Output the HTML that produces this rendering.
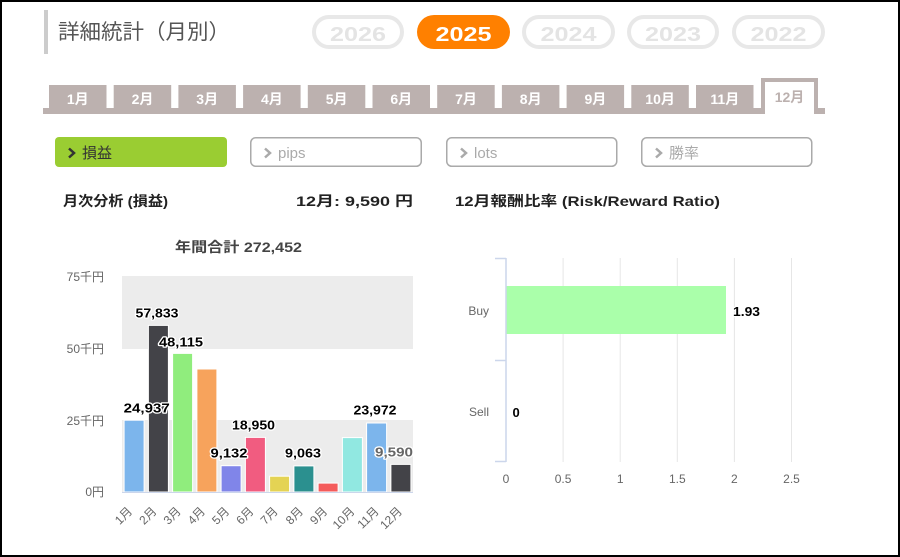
<!DOCTYPE html>
<html>
<head>
<meta charset="utf-8">
<style>
  html,body{margin:0;padding:0;background:#fff;}
  body{width:900px;height:557px;overflow:hidden;}
  svg{display:block;font-family:"Liberation Sans","Noto Sans CJK JP",sans-serif;}
  .b{font-weight:bold;}
</style>
</head>
<body>
<svg width="900" height="557" viewBox="0 0 900 557" xmlns="http://www.w3.org/2000/svg">
  <!-- frame -->
  <rect x="1" y="1" width="898" height="555" fill="#fff" stroke="#000" stroke-width="2"/>

  <!-- title -->
  <rect x="44" y="10" width="4" height="44" fill="#cccccc"/>
  <text x="58" y="39" font-size="21" fill="#555" textLength="172" lengthAdjust="spacingAndGlyphs">詳細統計（月別）</text>

  <!-- year pills -->
  <rect x="314" y="17" width="88" height="30" rx="15" fill="#fff" stroke="#e8e8e8" stroke-width="4"/>
  <text x="358" y="41" font-size="20" class="b" fill="#e4e4e4" text-anchor="middle" textLength="56" lengthAdjust="spacingAndGlyphs">2026</text>
  <rect x="417" y="15" width="93" height="34" rx="17" fill="#ff8000"/>
  <text x="463.5" y="41" font-size="20" class="b" fill="#fff" text-anchor="middle" textLength="56" lengthAdjust="spacingAndGlyphs">2025</text>
  <rect x="524" y="17" width="89" height="30" rx="15" fill="#fff" stroke="#e8e8e8" stroke-width="4"/>
  <text x="568.5" y="41" font-size="20" class="b" fill="#e4e4e4" text-anchor="middle" textLength="56" lengthAdjust="spacingAndGlyphs">2024</text>
  <rect x="629" y="17" width="88" height="30" rx="15" fill="#fff" stroke="#e8e8e8" stroke-width="4"/>
  <text x="673" y="41" font-size="20" class="b" fill="#e4e4e4" text-anchor="middle" textLength="56" lengthAdjust="spacingAndGlyphs">2023</text>
  <rect x="734" y="17" width="89" height="30" rx="15" fill="#fff" stroke="#e8e8e8" stroke-width="4"/>
  <text x="778.5" y="41" font-size="20" class="b" fill="#e4e4e4" text-anchor="middle" textLength="56" lengthAdjust="spacingAndGlyphs">2022</text>

  <!-- month tabs -->
  <rect x="43" y="108" width="782" height="6" fill="#bcb1af"/>
  <g fill="#bcb1af">
    <rect x="49" y="85" width="57.5" height="25"/>
    <rect x="113.7" y="85" width="57.5" height="25"/>
    <rect x="178.4" y="85" width="57.5" height="25"/>
    <rect x="243.1" y="85" width="57.5" height="25"/>
    <rect x="307.8" y="85" width="57.5" height="25"/>
    <rect x="372.5" y="85" width="57.5" height="25"/>
    <rect x="437.2" y="85" width="57.5" height="25"/>
    <rect x="501.9" y="85" width="57.5" height="25"/>
    <rect x="566.6" y="85" width="57.5" height="25"/>
    <rect x="631.3" y="85" width="57.5" height="25"/>
    <rect x="696" y="85" width="57.5" height="25"/>
    <rect x="761" y="78" width="57" height="36"/>
  </g>
  <rect x="765" y="82" width="49" height="32" fill="#fff"/>
  <g font-size="14" class="b" fill="#fff" text-anchor="middle">
    <text x="77.8" y="104">1月</text>
    <text x="142.5" y="104">2月</text>
    <text x="207.2" y="104">3月</text>
    <text x="271.9" y="104">4月</text>
    <text x="336.6" y="104">5月</text>
    <text x="401.3" y="104">6月</text>
    <text x="466" y="104">7月</text>
    <text x="530.7" y="104">8月</text>
    <text x="595.4" y="104">9月</text>
    <text x="660.1" y="104">10月</text>
    <text x="724.8" y="104">11月</text>
  </g>
  <text x="789.5" y="102" font-size="14" class="b" fill="#bcb1af" text-anchor="middle">12月</text>

  <!-- filter buttons -->
  <rect x="55" y="137" width="172" height="30" rx="4" fill="#9acd32"/>
  <polyline points="69,148.5 74,153 69,157.5" fill="none" stroke="#333" stroke-width="2.5"/>
  <text x="82" y="158" font-size="15" fill="#333">損益</text>

  <rect x="250.75" y="137.75" width="170.5" height="28.5" rx="5" fill="#fff" stroke="#aaa" stroke-width="1.5"/>
  <polyline points="265,148.5 270,153 265,157.5" fill="none" stroke="#aaa" stroke-width="2.5"/>
  <text x="278" y="158" font-size="15" fill="#aaa">pips</text>

  <rect x="446.75" y="137.75" width="170" height="28.5" rx="5" fill="#fff" stroke="#aaa" stroke-width="1.5"/>
  <polyline points="461,148.5 466,153 461,157.5" fill="none" stroke="#aaa" stroke-width="2.5"/>
  <text x="474" y="158" font-size="15" fill="#aaa">lots</text>

  <rect x="641.75" y="137.75" width="170" height="28.5" rx="5" fill="#fff" stroke="#aaa" stroke-width="1.5"/>
  <polyline points="656,148.5 661,153 656,157.5" fill="none" stroke="#aaa" stroke-width="2.5"/>
  <text x="669" y="158" font-size="15" fill="#aaa">勝率</text>

  <!-- section headings -->
  <text x="63" y="206" font-size="14" class="b" fill="#222" textLength="105" lengthAdjust="spacingAndGlyphs">月次分析 (損益)</text>
  <text x="296" y="206" font-size="14" class="b" fill="#222" textLength="117" lengthAdjust="spacingAndGlyphs">12月:  9,590 円</text>
  <text x="455" y="206" font-size="14" class="b" fill="#222" textLength="265" lengthAdjust="spacingAndGlyphs">12月報酬比率 (Risk/Reward Ratio)</text>
  <text x="175" y="252" font-size="14" class="b" fill="#444" textLength="127" lengthAdjust="spacingAndGlyphs">年間合計 272,452</text>

  <!-- left chart -->
  <rect x="122" y="276" width="291" height="73" fill="#ececec"/>
  <rect x="122" y="420" width="291" height="72" fill="#ececec"/>
  <g font-size="12" fill="#666" text-anchor="end">
    <text x="104" y="281">75千円</text>
    <text x="104" y="353">50千円</text>
    <text x="104" y="425">25千円</text>
    <text x="104" y="496">0円</text>
  </g>
  <g stroke="#fff" stroke-width="1">
    <rect x="124.1" y="420.2" width="20" height="71.8" fill="#7cb5ec"/>
    <rect x="148.4" y="325.4" width="20" height="166.6" fill="#434348"/>
    <rect x="172.6" y="353.4" width="20" height="138.6" fill="#90ed7d"/>
    <rect x="196.9" y="369.0" width="20" height="123.0" fill="#f7a35c"/>
    <rect x="221.1" y="465.7" width="20" height="26.3" fill="#8085e9"/>
    <rect x="245.4" y="437.4" width="20" height="54.6" fill="#f15c80"/>
    <rect x="269.6" y="476.2" width="20" height="15.8" fill="#e4d354"/>
    <rect x="293.9" y="465.9" width="20" height="26.1" fill="#2b908f"/>
    <rect x="318.1" y="483.1" width="20" height="8.9" fill="#f45b5b"/>
    <rect x="342.4" y="437.6" width="20" height="54.4" fill="#91e8e1"/>
    <rect x="366.6" y="423.0" width="20" height="69.0" fill="#7cb5ec"/>
    <rect x="390.9" y="464.4" width="20" height="27.6" fill="#434348"/>
  </g>
  <line x1="122" y1="492.5" x2="413" y2="492.5" stroke="#ccd6eb" stroke-width="1"/>

  <!-- data labels -->
  <g font-size="13" class="b" fill="#000" text-anchor="middle" stroke="#fff" stroke-width="2.5" paint-order="stroke" stroke-linejoin="round">
    <text x="146.7" y="412.5" textLength="46" lengthAdjust="spacingAndGlyphs">24,937</text>
    <text x="157" y="317.5" textLength="43" lengthAdjust="spacingAndGlyphs">57,833</text>
    <text x="181" y="346.5" textLength="44" lengthAdjust="spacingAndGlyphs">48,115</text>
    <text x="229" y="457.5" textLength="37" lengthAdjust="spacingAndGlyphs">9,132</text>
    <text x="253.5" y="429.5" textLength="43" lengthAdjust="spacingAndGlyphs">18,950</text>
    <text x="303" y="457.5" textLength="36" lengthAdjust="spacingAndGlyphs">9,063</text>
    <text x="375" y="414.5" textLength="43" lengthAdjust="spacingAndGlyphs">23,972</text>
    <text x="394" y="456.5" fill="#666" textLength="38" lengthAdjust="spacingAndGlyphs">9,590</text>
  </g>

  <!-- x labels rotated -->
  <g font-size="12" fill="#666" text-anchor="end">
    <text transform="translate(133,512) rotate(-45)">1月</text>
    <text transform="translate(157.4,512) rotate(-45)">2月</text>
    <text transform="translate(181.6,512) rotate(-45)">3月</text>
    <text transform="translate(205.9,512) rotate(-45)">4月</text>
    <text transform="translate(230.1,512) rotate(-45)">5月</text>
    <text transform="translate(254.4,512) rotate(-45)">6月</text>
    <text transform="translate(278.6,512) rotate(-45)">7月</text>
    <text transform="translate(303.9,512) rotate(-45)">8月</text>
    <text transform="translate(328.1,512) rotate(-45)">9月</text>
    <text transform="translate(355.4,512) rotate(-45)">10月</text>
    <text transform="translate(379.6,512) rotate(-45)">11月</text>
    <text transform="translate(402.9,512) rotate(-45)">12月</text>
  </g>

  <!-- right chart -->
  <g stroke="#e6e6e6" stroke-width="1">
    <line x1="563.1" y1="258" x2="563.1" y2="462"/>
    <line x1="620.2" y1="258" x2="620.2" y2="462"/>
    <line x1="677.3" y1="258" x2="677.3" y2="462"/>
    <line x1="734.4" y1="258" x2="734.4" y2="462"/>
    <line x1="791.5" y1="258" x2="791.5" y2="462"/>
  </g>
  <rect x="506" y="286" width="220" height="48" fill="#aaffaa"/>
  <g stroke="#ccd6eb" stroke-width="1.5">
    <line x1="506" y1="258" x2="506" y2="462"/>
    <line x1="495" y1="258.5" x2="506" y2="258.5"/>
    <line x1="495" y1="360.5" x2="506" y2="360.5"/>
    <line x1="495" y1="461.5" x2="506" y2="461.5"/>
  </g>
  <g font-size="12" fill="#666" text-anchor="end">
    <text x="489" y="315">Buy</text>
    <text x="489" y="416">Sell</text>
  </g>
  <g font-size="12" fill="#666" text-anchor="middle">
    <text x="506" y="483">0</text>
    <text x="563.1" y="483">0.5</text>
    <text x="620.2" y="483">1</text>
    <text x="677.3" y="483">1.5</text>
    <text x="734.4" y="483">2</text>
    <text x="791.5" y="483">2.5</text>
  </g>
  <g font-size="13" class="b" fill="#000" stroke="#fff" stroke-width="2.5" paint-order="stroke" stroke-linejoin="round">
    <text x="733" y="316" textLength="27" lengthAdjust="spacingAndGlyphs">1.93</text>
    <text x="512.5" y="417">0</text>
  </g>
</svg>
</body>
</html>
